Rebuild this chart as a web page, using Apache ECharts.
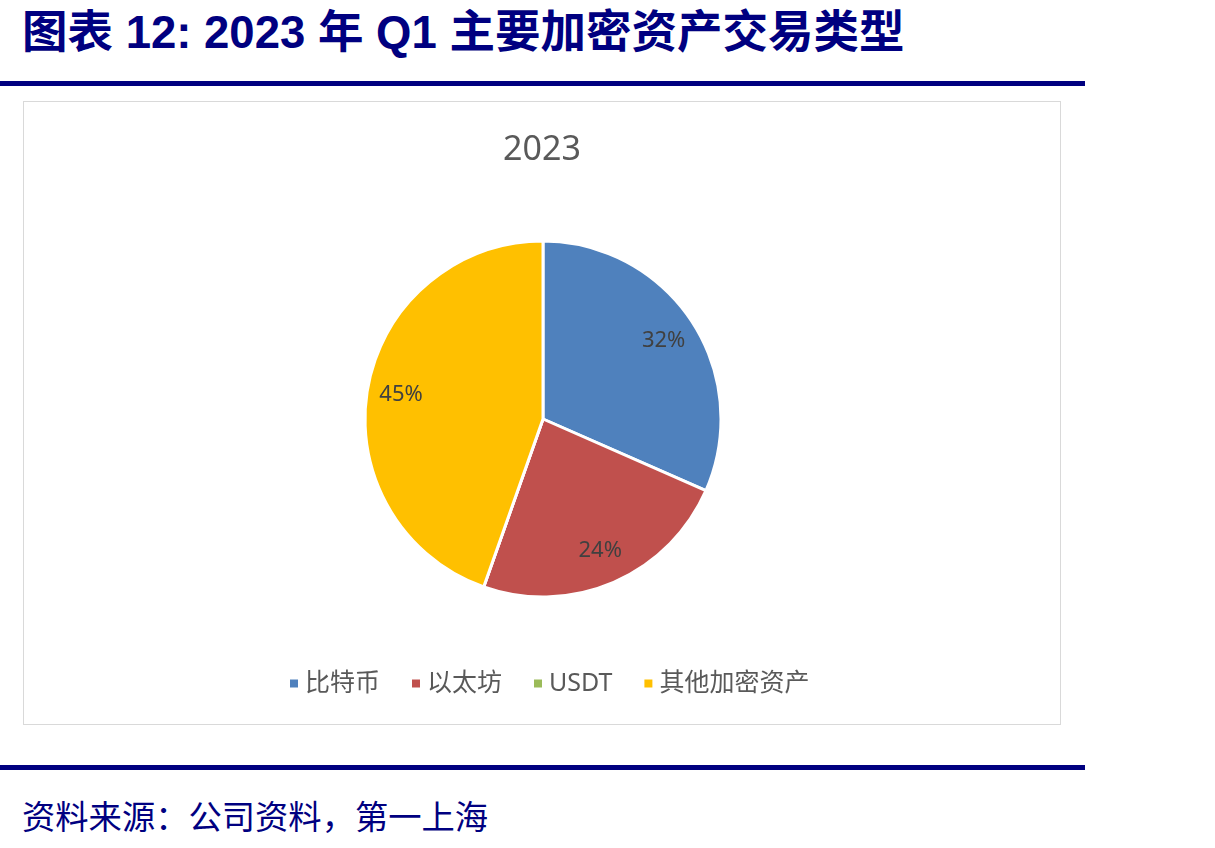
<!DOCTYPE html>
<html>
<head>
<meta charset="utf-8">
<script src="https://cdn.jsdelivr.net/npm/echarts@6/dist/echarts.min.js"></script>
<style>
  html, body { margin: 0; padding: 0; background: #fff; }
  body { width: 1215px; height: 848px; position: relative; overflow: hidden; }
  #title {
    position: absolute; left: 22px; top: -5px;
    font-family: "Liberation Sans", "Noto Sans CJK SC", sans-serif;
    font-weight: bold; font-size: 45.5px; color: #000080; white-space: nowrap;
  }
  .rule { position: absolute; left: 0; width: 1085px; height: 5px; background: #000080; }
  #box {
    position: absolute; left: 23px; top: 101px; width: 1036px; height: 622px;
    border: 1px solid #d9d9d9;
  }
  #chart { width: 1036px; height: 622px; }
  #source {
    position: absolute; left: 22px; top: 790px;
    font-family: "Noto Sans CJK SC", sans-serif; font-size: 33.3px; color: #000080;
    white-space: nowrap;
  }
</style>
</head>
<body>
<div id="title">图表 12: 2023 年 Q1 主要加密资产交易类型</div>
<div class="rule" style="top:81px"></div>
<div id="box"><div id="chart"></div></div>
<div class="rule" style="top:765px"></div>
<div id="source">资料来源：公司资料，第一上海</div>
<script>
  // 数据
  const chartTitle = '2023';
  const categories = ['比特币', '以太坊', 'USDT', '其他加密资产'];
  const shares = [31.6, 23.8, 0, 44.6];
  const colors = ['#4F81BD', '#C0504D', '#9BBB59', '#FFC000'];

  const pieData = categories.map((name, i) => ({ name, value: shares[i] }));
  const total = shares.reduce((a, b) => a + b, 0);

  const myChart = echarts.init(document.getElementById('chart'));
  const option = {
    color: colors,
    animation: false,
    title: {
      text: chartTitle,
      left: 'center',
      top: 26,
      textStyle: { fontFamily: 'Noto Sans', fontSize: 34, fontWeight: 'normal', color: '#595959' },
    },
    legend: {
      data: categories,
      bottom: 23,
      left: 259,
      icon: 'rect',
      itemWidth: 10,
      itemHeight: 10,
      itemGap: 30,
      textStyle: {
        fontFamily: 'Noto Sans, Noto Sans CJK SC',
        fontSize: 25,
        color: '#595959',
        padding: [0, 0, 0, 1],
      },
    },
    series: [
      {
        type: 'pie',
        center: [519, 317],
        radius: [0, 178],
        startAngle: 90,
        clockwise: true,
        data: pieData,
        label: { show: false },
        labelLine: { show: false },
        itemStyle: { borderColor: '#fff', borderWidth: 3 },
        emphasis: { disabled: true },
      },
      {
        // 标签层：透明扇区，把标签放在约 0.79 半径处
        type: 'pie',
        center: [519, 317],
        radius: [0, 282],
        startAngle: 90,
        clockwise: true,
        silent: true,
        z: 3,
        data: pieData,
        itemStyle: { color: 'rgba(0,0,0,0)' },
        labelLine: { show: false },
        label: {
          show: true,
          position: 'inside',
          fontFamily: 'Noto Sans',
          fontSize: 22,
          color: '#404040',
          formatter(p) {
            if (!p.value) return '';
            return Math.round((p.value / total) * 100) + '%';
          },
        },
        emphasis: { disabled: true },
      },
    ],
  };
  myChart.setOption(option);
</script>
</body>
</html>
